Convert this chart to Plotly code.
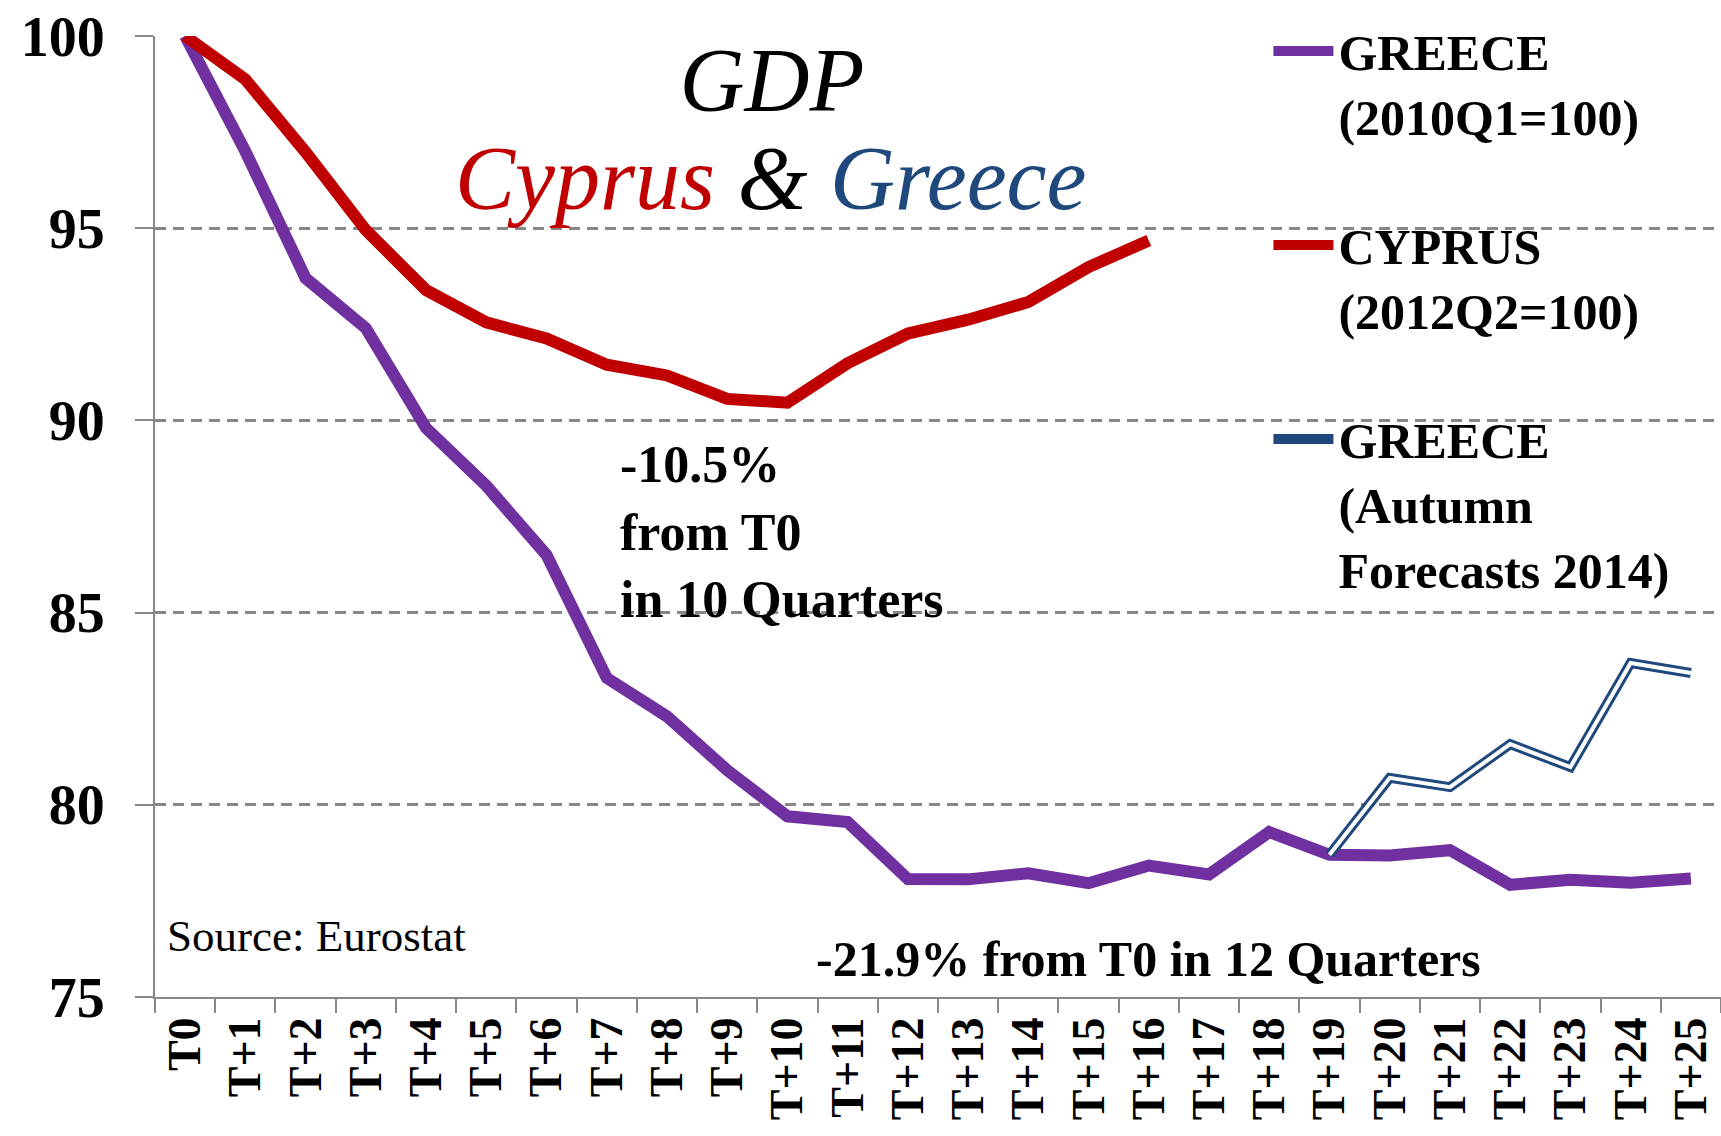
import plotly.graph_objects as go

# ---- data ----
quarters = ["T0", "T+1", "T+2", "T+3", "T+4", "T+5", "T+6", "T+7", "T+8", "T+9",
            "T+10", "T+11", "T+12", "T+13", "T+14", "T+15", "T+16", "T+17", "T+18",
            "T+19", "T+20", "T+21", "T+22", "T+23", "T+24", "T+25"]

greece = [100.0, 97.0, 93.7, 92.4, 89.8, 88.3, 86.5, 83.3, 82.3, 80.9,
          79.7, 79.55, 78.07, 78.06, 78.22, 77.96, 78.42, 78.19, 79.29,
          78.7, 78.68, 78.82, 77.92, 78.05, 77.97, 78.08]

cyprus = [100.0, 98.87, 96.98, 94.95, 93.39, 92.55, 92.13, 91.45, 91.17, 90.56,
          90.46, 91.49, 92.26, 92.62, 93.08, 93.99, 94.68,
          None, None, None, None, None, None, None, None, None]

greece_forecast = [None] * 19 + [78.7, 80.7, 80.46, 81.58, 80.98, 83.69, 83.43]

y_ticks = [75, 80, 85, 90, 95, 100]

name_greece = "GREECE<br>(2010Q1=100)"
name_cyprus = "CYPRUS<br>(2012Q2=100)"
name_forecast = "GREECE<br>(Autumn<br>Forecasts 2014)"

# ---- styles ----
PURPLE = "#7030A0"
RED = "#C00000"
BLUE = "#1F497D"
GRID = "#878787"
SERIF = "Liberation Serif"

fig = go.Figure()
fig.add_trace(go.Scatter(x=quarters, y=greece, mode="lines", name=name_greece,
                         legendgroup="g", line=dict(color=PURPLE, width=12)))
fig.add_trace(go.Scatter(x=quarters, y=cyprus, mode="lines", name=name_cyprus,
                         legendgroup="c", line=dict(color=RED, width=12)))
fig.add_trace(go.Scatter(x=quarters, y=greece_forecast, mode="lines", name=name_forecast,
                         legendgroup="f", line=dict(color=BLUE, width=10)))
fig.add_trace(go.Scatter(x=quarters, y=greece_forecast, mode="lines", name="forecast inner",
                         legendgroup="f", showlegend=False, hoverinfo="skip",
                         line=dict(color="white", width=4)))

fig.update_layout(
    width=1721, height=1136,
    margin=dict(l=155, r=0, t=36, b=139, pad=0),
    paper_bgcolor="white", plot_bgcolor="white",
    font=dict(family=SERIF, color="black"),
    title=dict(
        text="<i>GDP</i>",
        font=dict(family=SERIF, size=90, color="black"),
        x=0.394, xref="paper", xanchor="center",
        y=0.955, yref="paper", yanchor="middle",
    ),
    legend=dict(
        x=0.711, y=1.025, xanchor="left", yanchor="top",
        xref="paper", yref="paper",
        font=dict(family=SERIF, size=50, color="black", weight="bold"),
        bgcolor="rgba(0,0,0,0)", valign="top",
        traceorder="grouped", tracegroupgap=61, itemwidth=60,
        maxheight=2000,
    ),
    showlegend=True,
)

fig.update_xaxes(
    type="category", categoryorder="array", categoryarray=quarters,
    range=[-0.5, 25.5], tickson="boundaries",
    ticks="outside", ticklen=14, tickwidth=2, tickcolor=GRID,
    showline=True, linecolor=GRID, linewidth=2, showgrid=False,
    tickangle=-90, ticklabeloverflow="allow",
    tickfont=dict(family=SERIF, size=46, color="black", weight="bold"),
)
fig.update_yaxes(
    range=[75, 100], tickmode="array", tickvals=y_ticks,
    ticks="outside", ticklen=18, tickwidth=2, tickcolor=GRID,
    showline=True, linecolor=GRID, linewidth=2,
    showgrid=True, gridcolor=GRID, gridwidth=2.5, griddash="11px,7px",
    zeroline=False, ticklabelstandoff=19, ticklabeloverflow="allow",
    tickfont=dict(family=SERIF, size=56, color="black", weight="bold"),
)

fig.add_annotation(
    text="<i><span style='color:#C00000'>Cyprus</span> &amp; "
         "<span style='color:#1F497D'>Greece</span></i>",
    showarrow=False, xref="paper", x=0.3934, xanchor="center",
    yref="y", y=96.3, yanchor="middle",
    font=dict(family=SERIF, size=90, color="black"))

ann_font = dict(family=SERIF, size=52, color="black", weight="bold")
fig.add_annotation(text="-10.5%<br>from T0<br>in 10 Quarters", showarrow=False,
                   xref="paper", x=0.2957, xanchor="left", align="left",
                   yref="y", y=87.1, yanchor="middle", font=ann_font)
fig.add_annotation(text="-21.9% from T0 in 12 Quarters", showarrow=False,
                   xref="paper", x=0.4208, xanchor="left", align="left",
                   yref="y", y=76.0, yanchor="middle",
                   font=dict(family=SERIF, size=50, color="black", weight="bold"))
fig.add_annotation(text="Source: Eurostat", showarrow=False,
                   xref="paper", x=0.0064, xanchor="left", align="left",
                   yref="y", y=76.6, yanchor="middle",
                   font=dict(family=SERIF, size=45, color="black"))

fig.write_html("out.html", config={"displayModeBar": False},
               post_script="document.body.style.margin='0px';")
